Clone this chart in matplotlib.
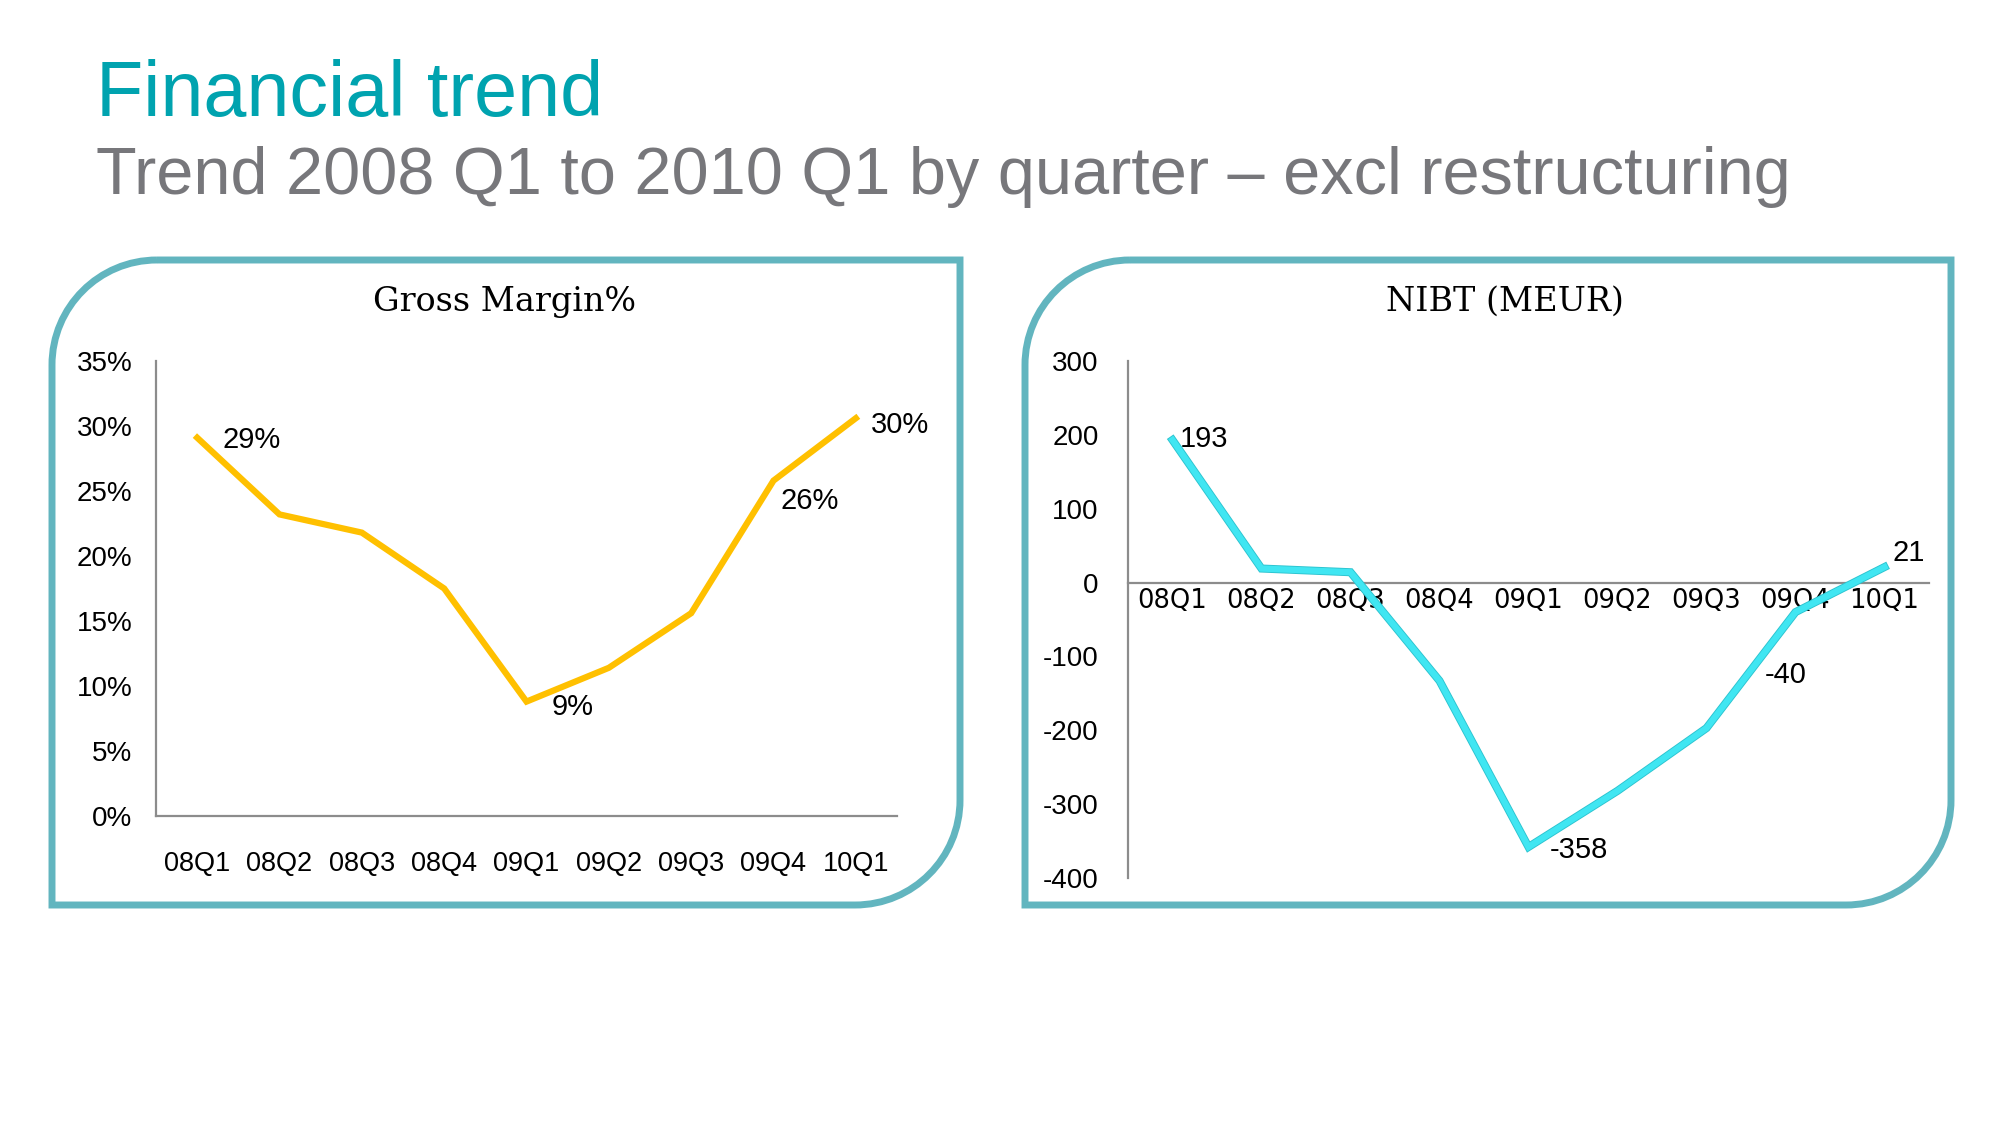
"""Financial trend: gross margin % and NIBT by quarter, 2008 Q1 to 2010 Q1."""

import matplotlib

matplotlib.use("Agg")
import matplotlib.pyplot as plt
import matplotlib.patheffects as pe
from matplotlib.path import Path
from matplotlib.patches import PathPatch
from matplotlib.ticker import FuncFormatter


quarters = ["08Q1", "08Q2", "08Q3", "08Q4", "09Q1", "09Q2", "09Q3", "09Q4", "10Q1"]
gross_margin = [29.1, 23.2, 21.8, 17.5, 8.8, 11.4, 15.6, 25.8, 30.6]
nibt = [193, 19, 14, -133, -358, -282, -197, -40, 21]

gm_labels = {0: "29%", 4: "9%", 7: "26%", 8: "30%"}
nibt_labels = {0: "193", 4: "-358", 7: "-40", 8: "21"}

TEAL = "#00A3AF"
GREY_TEXT = "#77777B"
BORDER = "#62B5BF"
GOLD = "#FFC000"
CYAN = "#40E6F2"
SANS = "Liberation Sans"
SERIF = "DejaVu Serif"

W, H = 2000, 1125

plt.rcParams["axes.unicode_minus"] = False


def rounded_box(x0, y0, x1, y1, r):
    """Box in pixel coords (y down) with top-left and bottom-right corners rounded."""
    k = 0.5523 * r
    verts = [
        (x0 + r, y0), (x1, y0), (x1, y1 - r),
        (x1, y1 - r + k), (x1 - r + k, y1), (x1 - r, y1),
        (x0, y1), (x0, y0 + r),
        (x0, y0 + r - k), (x0 + r - k, y0), (x0 + r, y0),
    ]
    codes = [
        Path.MOVETO, Path.LINETO, Path.LINETO,
        Path.CURVE4, Path.CURVE4, Path.CURVE4,
        Path.LINETO, Path.LINETO,
        Path.CURVE4, Path.CURVE4, Path.CURVE4,
    ]
    return Path(verts, codes)


def px_axes(fig, x0, y0, x1, y1):
    return fig.add_axes([x0 / W, 1 - y1 / H, (x1 - x0) / W, (y1 - y0) / H])


def style_axes(ax):
    for side in ("top", "right"):
        ax.spines[side].set_visible(False)
    for side in ("left", "bottom"):
        ax.spines[side].set_color("#8C8C8C")
        ax.spines[side].set_linewidth(1.6)
    ax.tick_params(length=0, labelsize=20, colors="black")
    for label in ax.get_xticklabels() + ax.get_yticklabels():
        label.set_family(SANS)
    ax.set_xlim(-0.5, len(quarters) - 0.5)
    ax.set_xticks(range(len(quarters)))
    ax.set_xticklabels(quarters, family=SANS)
    ax.patch.set_alpha(0)


fig = plt.figure(figsize=(20, 11.25), dpi=100)

# frame layer in pixel coordinates
bg = fig.add_axes([0, 0, 1, 1])
bg.set_xlim(0, W)
bg.set_ylim(H, 0)
bg.axis("off")
for box in [(52, 260, 960, 905), (1025, 260, 1951, 905)]:
    bg.add_patch(PathPatch(rounded_box(*box, r=105), facecolor="none",
                           edgecolor=BORDER, linewidth=5))

fig.text(96 / W, 1 - 116 / H, "Financial trend", color=TEAL, fontsize=55.7,
         family=SANS, va="baseline")
fig.text(96 / W, 1 - 194 / H, "Trend 2008 Q1 to 2010 Q1 by quarter \u2013 excl restructuring",
         color=GREY_TEXT, fontsize=48, family=SANS, va="baseline")

# Gross margin chart
ax1 = px_axes(fig, 156, 361, 897, 816)
x = list(range(len(quarters)))
ax1.plot(x, gross_margin, color=GOLD, linewidth=4.5, solid_joinstyle="miter")
ax1.set_ylim(0, 35)
ax1.set_yticks(range(0, 36, 5))
ax1.yaxis.set_major_formatter(FuncFormatter(lambda v, _: f"{v:.0f}%"))
style_axes(ax1)
ax1.tick_params(axis="y", pad=17)
ax1.tick_params(axis="x", pad=25, labelsize=19.5)
gm_offsets = {0: (18, -2), 4: (18, -4), 7: (5, -15), 8: (11, -5)}
for i, text in gm_labels.items():
    ax1.annotate(text, (i, gross_margin[i]), xytext=gm_offsets[i],
                 textcoords="offset points", fontsize=21, family=SANS,
                 ha="left", va="center")
fig.text(505 / W, 1 - 302 / H, "Gross Margin%", fontsize=24, family=SERIF,
         ha="center", va="center")

# NIBT chart
ax2 = px_axes(fig, 1128, 361, 1929, 878)
ax2.plot(x, nibt, color=CYAN, linewidth=4.5, solid_joinstyle="miter",
         path_effects=[pe.Stroke(linewidth=5.8, foreground="#2CC3CF"), pe.Normal()],
         zorder=3)
ax2.set_ylim(-400, 300)
ax2.set_yticks(range(-400, 301, 100))
style_axes(ax2)
ax2.spines["bottom"].set_position(("data", 0))
ax2.tick_params(axis="y", pad=21)
ax2.tick_params(axis="x", pad=4, labelsize=18.5)
nibt_offsets = {0: (5, 1), 4: (15, -2), 7: (-22, -45), 8: (6, 10)}
for i, text in nibt_labels.items():
    ax2.annotate(text, (i, nibt[i]), xytext=nibt_offsets[i],
                 textcoords="offset points", fontsize=21, family=SANS,
                 ha="left", va="center")
fig.text(1505 / W, 1 - 302 / H, "NIBT (MEUR)", fontsize=24, family=SERIF,
         ha="center", va="center")

fig.savefig("out.png", dpi=100)
plt.close(fig)
